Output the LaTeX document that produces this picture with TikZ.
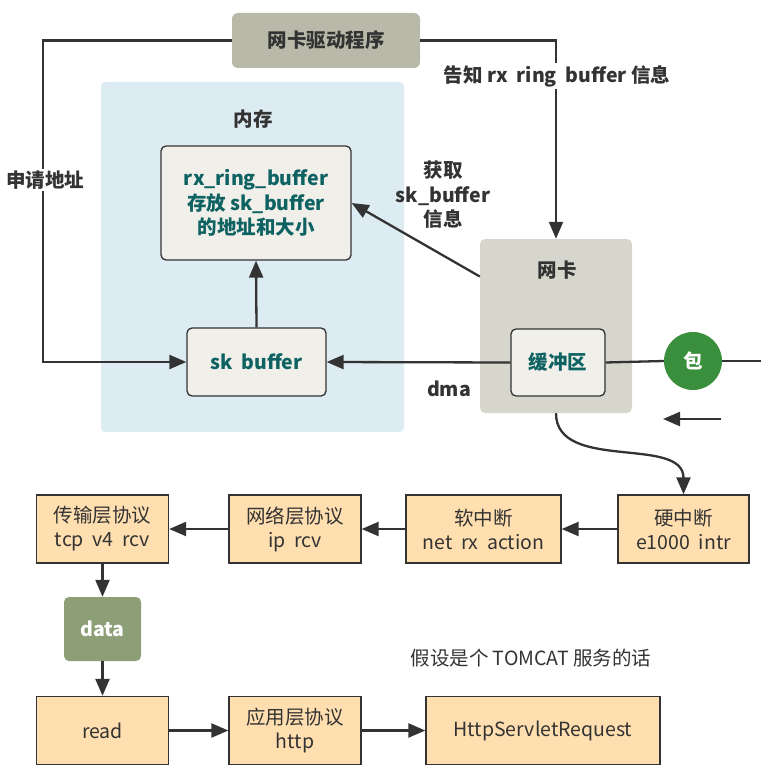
\documentclass[tikz,border=0pt]{standalone}
\usepackage{fontspec}
\setmainfont{Noto Sans CJK SC}
\usetikzlibrary{arrows.meta}

\definecolor{drivergray}{HTML}{B9B9A9}
\definecolor{memblue}{HTML}{DDEBF2}
\definecolor{cellfill}{HTML}{F0EFEA}
\definecolor{tealtext}{HTML}{0E6262}
\definecolor{nicgray}{HTML}{D6D6CD}
\definecolor{pktgreen}{HTML}{3A8F3D}
\definecolor{layerfill}{HTML}{FFDFB0}
\definecolor{datagreen}{HTML}{8C9F77}
\definecolor{linegray}{HTML}{333333}

\tikzset{
	flow/.style={line width=2.3pt, draw=linegray, -{Triangle[length=17pt,width=14pt]}},
	wire/.style={line width=2.3pt, draw=linegray},
	cell/.style={draw=linegray, line width=1.3pt, fill=cellfill, rounded corners=5pt, text=tealtext,
		font=\fontsize{19.5}{24.5}\selectfont\bfseries, align=center, inner sep=0pt},
	layer/.style={draw=linegray, line width=1.3pt, fill=layerfill, text=linegray,
		font=\fontsize{19.5}{24}\selectfont, align=center, inner sep=0pt, minimum height=68pt},
	tag/.style={text=linegray, font=\fontsize{19.5}{24.5}\selectfont\bfseries, align=center, inner sep=2pt},
}

\begin{document}
\begin{tikzpicture}[x=1pt, y=-1pt]
	\useasboundingbox (0,0) rectangle (761,773);
	
	% memory area and nic
	\fill[memblue, rounded corners=4pt] (101,82) rectangle (404,432);
	\node[tag] (memlabel) at (253,119) {内存};
	\node[fill=nicgray, rounded corners=5pt, minimum width=152pt, minimum height=174pt] (nic) at (556,326) {};
	\node[tag] (niclabel) at (557,270) {网卡};
	
	\node[fill=drivergray, rounded corners=6pt, minimum width=188pt, minimum height=55pt, tag] (driver) at (326,40.5) {网卡驱动程序};
	\node[cell, minimum width=190pt, minimum height=114pt] (rx) at (256,203) {rx\_ring\_buffer\\存放 sk\_buffer\\的地址和大小};
	\node[cell, minimum width=139pt, minimum height=68pt] (sk) at (256.5,362) {sk~~buffer};
	\node[cell, minimum width=94pt, minimum height=67pt] (buf) at (558,362.5) {缓冲区};
	\node[circle, fill=pktgreen, minimum size=58pt, inner sep=0pt, text=white, font=\fontsize{19.5}{24}\selectfont\bfseries] (pkt) at (693,361) {包};
	\coordinate (rightend) at (761,361);
	\coordinate (bend) at (43,40.5);
	\coordinate (backtail) at (721,419);
	\coordinate (backhead) at (663,419);
	
	\draw[flow] (driver.west) -- (bend) |- (sk.west);
	\node[tag, fill=white] (applyaddr) at (45,180) {申请地址};
	\draw[flow] (driver.east) -| (nic.north);
	\node[tag, fill=white] (tellrx) at (557,76) {告知 rx~~ring~~buffer 信息};
	\draw[flow] (nic.147) -- (rx.east);
	\node[tag] (getsk) at (443,195) {获取\\sk\_buffer\\信息};
	\draw[flow] (sk.north) -- (rx.south);
	\draw[flow] (buf.west) -- (sk.east);
	\node[tag] (dma) at (449,389) {dma};
	\draw[wire] (buf.east) -- (pkt.west);
	\draw[wire] (pkt.east) -- (rightend);
	\draw[flow] (backtail) -- (backhead);
	
	% protocol stack
	\node[layer, minimum width=132pt] (tcp) at (102.5,529) {传输层协议\\tcp~~v4~~rcv};
	\node[layer, minimum width=132pt] (ip) at (295,529) {网络层协议\\ip~~rcv};
	\node[layer, minimum width=155pt] (soft) at (483.5,529) {软中断\\net~~rx~~action};
	\node[layer, minimum width=131pt] (hard) at (683.5,529) {硬中断\\e1000~~intr};
	\node[fill=datagreen, rounded corners=5pt, minimum width=77pt, minimum height=64pt, text=white,
		font=\fontsize{19.5}{24}\selectfont\bfseries] (data) at (102.5,629) {data};
	\node[layer, minimum width=132pt] (read) at (102.5,730.5) {read};
	\node[layer, minimum width=132pt] (http) at (295,730.5) {应用层协议\\http};
	\node[layer, minimum width=234pt] (servlet) at (543,730.5) {HttpServletRequest};
	\node[text=linegray, font=\fontsize{19.5}{24}\selectfont] (tomcat) at (531,658) {假设是个 TOMCAT 服务的话};
	
	\draw[flow] (nic.south) to[out=-90, in=90] (hard.north);
	\draw[flow] (hard.west) -- (soft.east);
	\draw[flow] (soft.west) -- (ip.east);
	\draw[flow] (ip.west) -- (tcp.east);
	\draw[flow] (tcp.south) -- (data.north);
	\draw[flow] (data.south) -- (read.north);
	\draw[flow] (read.east) -- (http.west);
	\draw[flow] (http.east) -- (servlet.west);
\end{tikzpicture}
\end{document}
